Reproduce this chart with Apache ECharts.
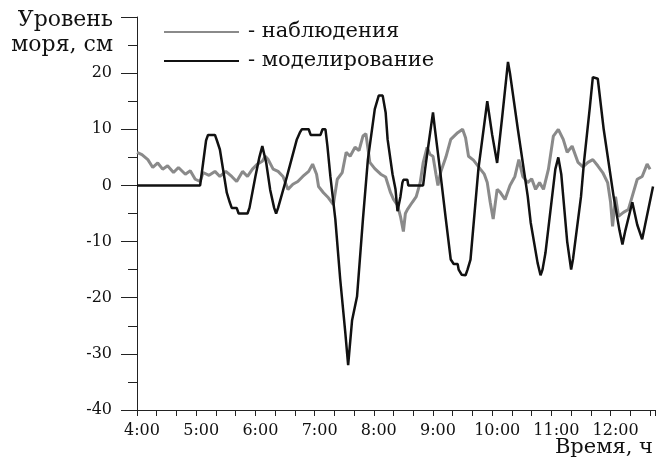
<!DOCTYPE html>
<html>
<head>
<meta charset="utf-8">
<script src="https://cdn.jsdelivr.net/npm/echarts@6/dist/echarts.min.js"></script>
<style>
html,body{margin:0;padding:0;background:#fff;}
#chart{width:656px;height:458px;}
</style>
</head>
<body>
<div id="chart"></div>
<script>
// Time in minutes after 4:00
const hourLabels = ['4:00','5:00','6:00','7:00','8:00','9:00','10:00','11:00','12:00'];
const seriesNames = ['наблюдения', 'моделирование'];
const xTitle = 'Время, ч';
const yTitle = 'Уровень\nморя, см';

// Observed sea level (cm)
const obsTime = [0,5,11,16,21,26,31,37,42,49,54,59,64,67,73,79,84,90,96,101,107,112,117,122,127,130,133,138,143,148,153,158,163,168,174,178,180,182,184,189,194,199,201,203,208,212,216,221,225,229,232,236,241,247,252,257,260,264,267,270,272,274,279,283,287,290,294,297,300,303,305,308,313,318,325,330,333,336,341,348,352,355,358,361,365,368,373,378,383,387,391,396,400,404,408,412,417,422,427,432,436,441,447,452,457,462,467,472,477,480,482,485,488,493,498,502,507,512,517,520];
const obsValue = [5.9,5.5,4.6,3.2,4,2.9,3.5,2.3,3.2,2,2.6,1.1,0.7,2.3,1.8,2.5,1.6,2.5,1.6,0.7,2.5,1.6,2.9,3.8,4.3,5.2,4.6,2.9,2.5,1.6,-0.7,0.2,0.7,1.6,2.5,3.8,4,2,-0.2,-1.3,-2.2,-3.4,-3.4,1.1,2.3,5.9,5.2,6.8,6.2,8.8,9.2,4.1,3,2,1.5,-1.3,-2.5,-3.5,-5.5,-8.2,-5,-4.3,-3,-2,0.5,4,6.8,5.5,5.2,2,0,2.5,5,8.2,9.4,10,8.5,5.2,4.5,2.9,2,0.5,-3,-6,-0.7,-1.2,-2.5,0,1.6,4.6,1.6,0.5,1.2,-0.7,0.5,-0.7,2.9,8.8,10,8.2,5.9,7,4.1,3.3,4.1,4.6,3.5,2.3,0.5,-3,-7.3,-2,-5.5,-4.8,-4.3,-1.9,1.1,1.6,3.8,2.9];

// Modelled sea level (cm)
const modTime = [0,64,67,70,72,79,81,84,91,94,96,101,103,112,114,120,124,127,128,131,135,139,141,143,152,162,165,167,174,176,186,188,191,193,196,201,206,211,213,214,215,218,223,229,234,241,245,249,252,254,259,262,264,267,269,270,274,275,290,292,296,300,302,307,313,318,321,325,326,329,333,335,338,346,355,360,365,370,376,378,386,396,399,406,409,411,414,424,427,430,436,440,442,450,453,459,462,467,473,483,489,492,495,502,507,512,515,523];
const modValue = [0,0,4,8,9,9,8,6.4,-1.3,-3,-4,-4,-5,-5,-4,1.6,5,7,7,4,-0.8,-4,-5,-4,1.6,8.2,9.4,10,10,9,9,10,10,7,1.6,-6,-16.8,-26,-30,-32,-30,-24,-19.8,-6,4.6,13.6,16,16,13,8.2,2,-0.7,-4.6,-2,0.5,1,1,0,0,2.9,8,13,10,2.9,-6,-13.2,-14,-14,-15,-15.9,-16,-15,-13.2,2.9,15,9,4,12,22,20,10,-1.9,-6.6,-13.8,-16,-15,-12,2.9,5,2,-10,-15,-13,-2,4.1,14,19.3,19,10,-1.9,-8,-10.5,-8,-3,-7,-9.6,-7,-0.2];

const yMin = -40, yMax = 30, yStep = 10;
const xMin = 0, xMax = 525, xStep = 20;

const FONT = 'DejaVu Serif';
const obsData = obsTime.map((t, i) => [t, obsValue[i]]);
const modData = modTime.map((t, i) => [t, modValue[i]]);

const chart = echarts.init(document.getElementById('chart'), null, {renderer: 'canvas'});
chart.setOption({
  animation: false,
  backgroundColor: '#ffffff',
  textStyle: {fontFamily: FONT, color: '#111'},
  title: {
    text: xTitle,
    right: 3, top: 437, padding: 0,
    textStyle: {fontFamily: FONT, fontSize: 21, fontWeight: 'normal', color: '#111', lineHeight: 21}
  },
  grid: {left: 137, right: 1, top: 17, bottom: 48, containLabel: false, outerBoundsMode: 'none'},
  legend: {
    orient: 'vertical',
    left: 163, top: 21,
    padding: 0,
    itemGap: 7,
    itemWidth: 75, itemHeight: 22,
    data: seriesNames,
    itemStyle: {opacity: 0},
    formatter: n => '- ' + n,
    textStyle: {fontFamily: FONT, fontSize: 21, color: '#111', lineHeight: 22, padding: [0, 0, 0, 4]}
  },
  xAxis: {
    type: 'value',
    min: xMin, max: xMax, interval: xStep,
    axisLine: {show: true, onZero: false, lineStyle: {color: '#222', width: 1}},
    axisTick: {show: true, length: 6, lineStyle: {color: '#222', width: 1}},
    splitLine: {show: false},
    axisLabel: {
      fontFamily: FONT, fontSize: 16, color: '#111', margin: 13,
      padding: [0, 0, 0, 10],
      showMaxLabel: true, showMinLabel: true,
      formatter: v => (v % 60 === 0 && v / 60 < hourLabels.length) ? hourLabels[v / 60] : ''
    }
  },
  yAxis: {
    type: 'value',
    min: yMin, max: yMax, interval: yStep,
    name: yTitle,
    nameLocation: 'end',
    nameGap: 9,
    nameTextStyle: {fontFamily: FONT, fontSize: 22, color: '#111', align: 'right', verticalAlign: 'top', lineHeight: 25, padding: [0, 24, 0, 0]},
    axisLine: {show: true, onZero: false, lineStyle: {color: '#222', width: 1}},
    axisTick: {show: true, length: 16, lineStyle: {color: '#222', width: 1}},
    minorTick: {show: true, splitNumber: 2, length: 9, lineStyle: {color: '#222', width: 1}},
    splitLine: {show: false},
    minorSplitLine: {show: false},
    axisLabel: {
      fontFamily: FONT, fontSize: 16, color: '#111', margin: 25,
      formatter: v => v === yMax ? '' : String(v)
    }
  },
  series: [
    {
      name: seriesNames[0], type: 'line', data: obsData,
      symbol: 'none', smooth: false,
      lineStyle: {color: '#8a8a8a', width: 3},
      itemStyle: {color: '#8a8a8a'},
      z: 2
    },
    {
      name: seriesNames[1], type: 'line', data: modData,
      symbol: 'none', smooth: false,
      lineStyle: {color: '#111111', width: 2.5},
      itemStyle: {color: '#111111'},
      z: 3
    }
  ]
});
</script>
</body>
</html>
